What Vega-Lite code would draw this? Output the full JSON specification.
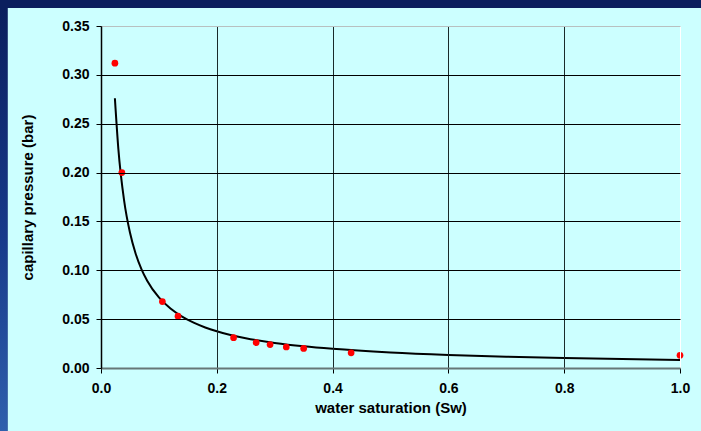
{
  "$schema": "https://vega.github.io/schema/vega-lite/v6.json",
  "width": 579,
  "height": 342,
  "autosize": "none",
  "padding": {"left": 101, "top": 26, "right": 21, "bottom": 63},
  "background": "#0b1f5e",
  "datasets": {
    "measured": [
      {"sw": 0.024, "pc": 0.312},
      {"sw": 0.036, "pc": 0.200},
      {"sw": 0.106, "pc": 0.068},
      {"sw": 0.133, "pc": 0.053},
      {"sw": 0.229, "pc": 0.031},
      {"sw": 0.268, "pc": 0.026},
      {"sw": 0.292, "pc": 0.024},
      {"sw": 0.320, "pc": 0.0215},
      {"sw": 0.350, "pc": 0.020},
      {"sw": 0.432, "pc": 0.0155},
      {"sw": 1.0, "pc": 0.013}
    ],
    "fit": [
      {"sw": 0.024, "pc": 0.276},
      {"sw": 0.03, "pc": 0.224},
      {"sw": 0.04, "pc": 0.171},
      {"sw": 0.05, "pc": 0.1386},
      {"sw": 0.06, "pc": 0.1167},
      {"sw": 0.07, "pc": 0.101},
      {"sw": 0.08, "pc": 0.0891},
      {"sw": 0.10, "pc": 0.0722},
      {"sw": 0.12, "pc": 0.0608},
      {"sw": 0.14, "pc": 0.0526},
      {"sw": 0.16, "pc": 0.0464},
      {"sw": 0.18, "pc": 0.0415},
      {"sw": 0.20, "pc": 0.0376},
      {"sw": 0.25, "pc": 0.0305},
      {"sw": 0.30, "pc": 0.0257},
      {"sw": 0.35, "pc": 0.0222},
      {"sw": 0.40, "pc": 0.0196},
      {"sw": 0.50, "pc": 0.0159},
      {"sw": 0.60, "pc": 0.0134},
      {"sw": 0.70, "pc": 0.0116},
      {"sw": 0.80, "pc": 0.0102},
      {"sw": 0.90, "pc": 0.0091},
      {"sw": 1.00, "pc": 0.0083}
    ]
  },
  "layer": [
    {
      "data": {"values": [{}]},
      "mark": {
        "type": "rect",
        "fill": {
          "gradient": "linear",
          "x1": 0, "y1": 0, "x2": 0, "y2": 1,
          "stops": [
            {"offset": 0, "color": "#0b1f5e"},
            {"offset": 0.5, "color": "#173a8a"},
            {"offset": 1, "color": "#3366b3"}
          ]
        }
      },
      "encoding": {
        "x": {"datum": -0.3, "type": "quantitative", "scale": {"domain": [0, 1], "nice": false, "zero": false}},
        "x2": {"datum": -0.161},
        "y": {"datum": -0.1, "type": "quantitative", "scale": {"domain": [0, 0.35], "nice": false, "zero": false}},
        "y2": {"datum": 0.3684}
      }
    },
    {
      "data": {"values": [{}]},
      "mark": {"type": "rect", "fill": "#ccffff"},
      "encoding": {
        "x": {"datum": -0.161, "type": "quantitative", "scale": {"domain": [0, 1], "nice": false, "zero": false}},
        "x2": {"datum": 1.2},
        "y": {"datum": -0.15, "type": "quantitative", "scale": {"domain": [0, 0.35], "nice": false, "zero": false}},
        "y2": {"datum": 0.3684}
      }
    },
    {
      "data": {"name": "fit"},
      "mark": {"type": "line", "color": "#000000", "strokeWidth": 2, "interpolate": "monotone"},
      "encoding": {
        "x": {"field": "sw", "type": "quantitative", "scale": {"domain": [0, 1], "nice": false, "zero": false}},
        "y": {"field": "pc", "type": "quantitative", "scale": {"domain": [0, 0.35], "nice": false, "zero": false}}
      }
    },
    {
      "data": {"name": "measured"},
      "mark": {"type": "point", "filled": true, "color": "#ff0000", "opacity": 1, "size": 45},
      "encoding": {
        "x": {
          "field": "sw", "type": "quantitative",
          "scale": {"domain": [0, 1], "nice": false, "zero": false},
          "axis": {
            "zindex": 1,
            "grid": true,
            "title": "water saturation (Sw)",
            "values": [0, 0.2, 0.4, 0.6, 0.8, 1.0],
            "format": ".1f",
            "domainColor": "#667777",
            "domainWidth": 2,
            "gridColor": {"condition": {"test": "datum.value > 0.99", "value": "#ffffff"}, "value": "#1a2a2a"},
            "labelPadding": 8,
            "titlePadding": 5
          }
        },
        "y": {
          "field": "pc", "type": "quantitative",
          "scale": {"domain": [0, 0.35], "nice": false, "zero": false},
          "axis": {
            "zindex": 1,
            "grid": true,
            "title": "capillary pressure (bar)",
            "values": [0, 0.05, 0.1, 0.15, 0.2, 0.25, 0.3, 0.35],
            "format": ".2f",
            "domainColor": "#000000",
            "domainWidth": 1.5,
            "gridColor": {"condition": {"test": "datum.value > 0.34 || datum.value < 0.01", "value": "#b8c0c0"}, "value": "#000000"},
            "labelPadding": 7,
            "titlePadding": 26
          }
        }
      }
    }
  ],
  "config": {
    "view": {"stroke": null},
    "axis": {
      "labelFont": "Liberation Sans",
      "labelFontWeight": "bold",
      "labelFontSize": 14,
      "labelColor": "#000000",
      "titleFont": "Liberation Sans",
      "titleFontWeight": "bold",
      "titleFontSize": 15,
      "titleColor": "#000000",
      "tickColor": "#000000",
      "tickSize": 5,
      "tickWidth": 1,
      "gridOpacity": 1,
      "gridWidth": 1,
      "labelFlush": false,
      "labelOverlap": false
    }
  }
}
